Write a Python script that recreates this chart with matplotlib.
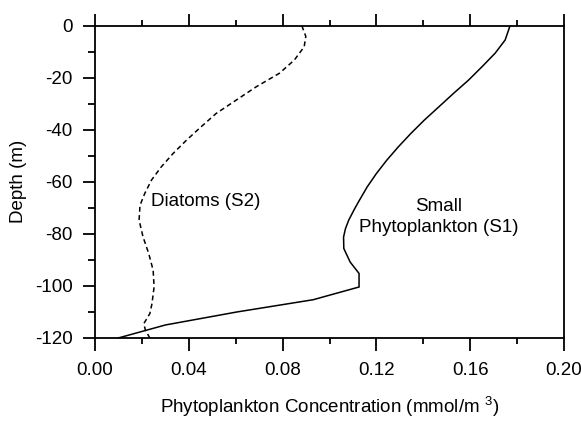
import matplotlib
matplotlib.use("Agg")
import matplotlib.pyplot as plt
from matplotlib.ticker import MultipleLocator

plt.rcParams['font.family'] = ['Liberation Sans', 'DejaVu Sans']
plt.rcParams['mathtext.default'] = 'regular'
plt.rcParams['axes.unicode_minus'] = False

# Small Phytoplankton (S1), solid
s1_depth = [0, -5.5, -10.6, -15.8, -20.9, -26, -31.2, -36.3, -41.4, -46.5, -51.7,
            -56.8, -61.9, -67, -70.2, -74.7, -78, -81.2, -85.6, -90.8, -95.2,
            -100.4, -105.3, -110, -115, -120]
s1_conc = [0.1770, 0.1749, 0.1706, 0.1650, 0.1593, 0.1529, 0.1466, 0.1404, 0.1347,
           0.1294, 0.1244, 0.1200, 0.1161, 0.1128, 0.1108, 0.1082, 0.1068, 0.1060,
           0.1061, 0.1088, 0.1126, 0.1126, 0.0930, 0.0605, 0.0300, 0.0099]

# Diatoms (S2), dashed
s2_depth = [0, -4.1, -8.1, -13.2, -18.3, -23.5, -28.6, -33.7, -38.8, -44, -49.1,
            -54.2, -59.3, -64.5, -69, -74.7, -81.2, -87.5, -94, -100.4, -106.8,
            -110.6, -114.5, -117, -120]
s2_conc = [0.0882, 0.0899, 0.0892, 0.0850, 0.0786, 0.0687, 0.0602, 0.0517, 0.0453,
           0.0390, 0.0333, 0.0283, 0.0241, 0.0212, 0.0192, 0.0188, 0.0205, 0.0229,
           0.0248, 0.0252, 0.0243, 0.0234, 0.0208, 0.0215, 0.0234]

x_ticks = [0.00, 0.04, 0.08, 0.12, 0.16, 0.20]
x_ticklabels = ["0.00", "0.04", "0.08", "0.12", "0.16", "0.20"]
y_ticks = [0, -20, -40, -60, -80, -100, -120]

FS = 13.5

fig = plt.figure(figsize=(5.81, 4.22), dpi=100)
ax = fig.add_axes([95/581, 1-338/422, (564-95)/581, (338-25.7)/422])

ax.plot(s1_conc, s1_depth, color='black', lw=1.1, solid_joinstyle='miter')
ax.plot(s2_conc, s2_depth, color='black', lw=1.1, linestyle=(0, (3.2, 2.2)))

ax.set_xlim(0, 0.20)
ax.set_ylim(-120, 0)
ax.set_xticks(x_ticks)
ax.set_xticklabels(x_ticklabels)
ax.set_yticks(y_ticks)
ax.xaxis.set_minor_locator(MultipleLocator(0.02))
ax.yaxis.set_minor_locator(MultipleLocator(10))

for sp in ax.spines.values():
    sp.set_linewidth(1.3)
    sp.set_color('black')

ax.tick_params(axis='x', which='major', direction='out', length=9, width=1.3,
               top=True, bottom=True, labelsize=FS, pad=8)
ax.tick_params(axis='x', which='minor', direction='out', length=4.5, width=1.3,
               top=True, bottom=True)
ax.tick_params(axis='y', which='major', direction='out', length=9, width=1.3,
               left=True, right=False, labelsize=FS, pad=7)
ax.tick_params(axis='y', which='minor', direction='out', length=5, width=1.3,
               left=True, right=False)

ax.set_xlabel("Phytoplankton Concentration (mmol/m $^{3}$)", fontsize=FS, labelpad=12)
ax.set_ylabel("Depth (m)", fontsize=FS, labelpad=6)

ax.text(0.024, -67.5, "Diatoms (S2)", fontsize=FS, ha='left', va='center')
ax.text(0.1466, -73.5, "Small\nPhytoplankton (S1)", fontsize=FS, ha='center',
        va='center', linespacing=1.25)

fig.savefig("out.png", dpi=100)
